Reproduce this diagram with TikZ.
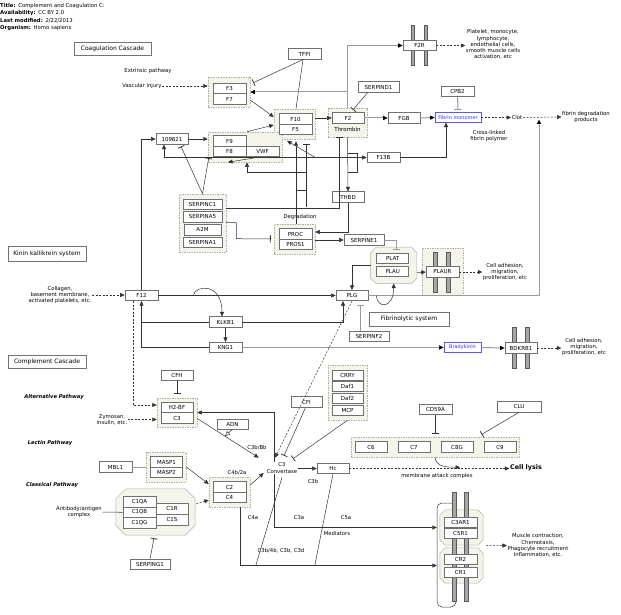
\documentclass[tikz,border=0pt]{standalone}
\usepackage{fontspec}
\setmainfont{DejaVu Sans}
\usetikzlibrary{arrows.meta,calc}
\definecolor{grpfill}{HTML}{F4F4EA}
\definecolor{grpline}{HTML}{B0B0A4}
\definecolor{boxline}{HTML}{707070}
\definecolor{metabc}{HTML}{3030FF}
\newcommand\gfnt{\fontsize{5.5}{6}\selectfont}
\newcommand\afnt{\fontsize{5.3}{6.2}\selectfont}
\newcommand\lfnt{\fontsize{6}{7}\selectfont}
\newcommand\pfnt{\fontsize{5.2}{6}\selectfont\bfseries\itshape}
\newcommand\hfnt{\fontsize{5.3}{6}\selectfont}
\newcommand\mfnt{\fontsize{5}{6}\selectfont}
\newcommand\cfnt{\fontsize{6.4}{7}\selectfont\bfseries}
\newcommand\octo[2]{%
  \draw[octd] ($(#1.north west)+(#2,0)$) -- ($(#1.north east)+(-#2,0)$) -- ($(#1.north east)+(0,#2)$) -- ($(#1.south east)+(0,-#2)$) -- ($(#1.south east)+(-#2,0)$) -- ($(#1.south west)+(#2,0)$) -- ($(#1.south west)+(0,-#2)$) -- ($(#1.north west)+(0,#2)$) -- cycle;}
\begin{document}
\begin{tikzpicture}[x=1pt,y=-1pt,
  gene/.style={draw=boxline, fill=white, line width=0.6pt, minimum width=33pt, minimum height=10.5pt, inner sep=0pt, font=\gfnt},
  metab/.style={gene, draw=metabc!80, text=metabc, minimum height=9.5pt, font=\mfnt},
  grp/.style={draw=grpline, fill=grpfill, dashed, dash pattern=on 1.5pt off 1pt, line width=0.5pt, inner sep=0pt},
  octn/.style={inner sep=0pt},
  octd/.style={draw=grpline, fill=grpfill, line width=0.5pt},
  lbox/.style={draw=black!55, fill=white, line width=0.6pt, inner sep=0pt, font=\lfnt},
  ann/.style={font=\afnt, align=center, inner sep=0.5pt},
  pw/.style={font=\pfnt, inner sep=0pt},
  ln/.style={draw=black!80, line width=0.5pt},
  arr/.style={ln, -{Triangle[length=4.5pt,width=4pt]}},
  inh/.style={ln, -{Bar[width=7pt,line width=0.8pt]}},
  gl/.style={draw=black!40, line width=1pt},
  garr/.style={gl, -{Triangle[length=4.5pt,width=4pt,color=black]}},
  ginh/.style={gl, -{Bar[width=7pt,line width=1pt]}},
  dsh/.style={ln, dashed, dash pattern=on 2pt off 1.5pt, -{Triangle[length=4.5pt,width=4pt]}},
  mbar/.style={draw=black!65, fill=black!35, line width=0.4pt},
]
\useasboundingbox (0,0) rectangle (621,615);

% ---------- header ----------
\node[anchor=west, font=\hfnt, inner sep=0pt] (h1) at (0,6) {\textbf{Title:}\enspace Complement and Coagulation C:};
\node[anchor=west, font=\hfnt, inner sep=0pt] (h2) at (0,13.3) {\textbf{Availability:}\enspace CC BY 2.0};
\node[anchor=west, font=\hfnt, inner sep=0pt] (h3) at (0,20.7) {\textbf{Last modified:}\enspace 2/22/2013};
\node[anchor=west, font=\hfnt, inner sep=0pt] (h4) at (0,28) {\textbf{Organism:}\enspace Homo sapiens};

% ---------- label boxes ----------
\node[lbox, minimum width=77pt, minimum height=13pt] (lcc) at (112.5,48.5) {Coagulation Cascade};
\node[lbox, minimum width=78pt, minimum height=15pt] (lkk) at (47,253.5) {Kinin kallikrein system};
\node[lbox, minimum width=78pt, minimum height=12.5pt] (lcm) at (47,362) {Complement Cascade};
\node[lbox, minimum width=80pt, minimum height=14pt] (lfs) at (409,319) {Fibrinolytic system};

\node[pw] (pal) at (54,397) {Alternative Pathway};
\node[pw] (plec) at (50,443) {Lectin Pathway};
\node[pw] (pcl) at (52,485) {Classical Pathway};

% ---------- groups ----------
\node[grp, minimum width=42pt, minimum height=30pt] (gF3) at (229,92) {};
\node[grp, minimum width=41pt, minimum height=30pt] (gF10) at (294.5,124) {};
\node[grp, minimum width=39pt, minimum height=29pt] (gF2) at (347.5,122.5) {};
\node[grp, minimum width=74pt, minimum height=30pt] (gF9) at (245,147) {};
\node[grp, minimum width=47pt, minimum height=58pt] (gSC) at (202.5,223) {};
\node[grp, minimum width=41pt, minimum height=30pt] (gPC) at (294.5,239) {};
\node[octn, minimum width=46pt, minimum height=36pt] (gPA) at (393.7,265.3) {};
\octo{gPA}{5.5}
\node[grp, minimum width=41pt, minimum height=47pt] (gPR) at (442.5,271.5) {};
\node[grp, minimum width=40pt, minimum height=29pt] (gHB) at (177,412.5) {};
\node[grp, minimum width=39pt, minimum height=55pt] (gCR) at (347.5,392.5) {};
\node[grp, minimum width=168pt, minimum height=20pt] (gC6) at (435,447) {};
\node[grp, minimum width=41pt, minimum height=30pt] (gC2) at (229.5,492) {};
\node[grp, minimum width=40pt, minimum height=30pt] (gMA) at (166,467) {};
\node[octn, minimum width=79pt, minimum height=46pt] (gC1) at (155.5,512) {};
\octo{gC1}{10}

% receptor frame, octagons and membrane bars
\draw[ln, rounded corners=5pt] (437,503) rectangle (456,607);
\node[octn, minimum width=43pt, minimum height=35pt] (gC3A) at (461.5,527.5) {};
\octo{gC3A}{5.5}
\node[octn, minimum width=43pt, minimum height=35pt] (gCR2) at (461.5,565.5) {};
\octo{gCR2}{5.5}
\draw[mbar] (452,492) rectangle (456,601);
\draw[mbar] (464,492) rectangle (468,601);
\draw[mbar] (411.5,25) rectangle (414.5,65);
\draw[mbar] (424,25) rectangle (427,65);
\draw[mbar] (433,252) rectangle (437,292);
\draw[mbar] (446,252) rectangle (450,292);
\draw[mbar] (512,327) rectangle (516,368);
\draw[mbar] (525,327) rectangle (529,368);

% ---------- coagulation nodes ----------
\node[ann] (ext) at (148,71) {Extrinsic pathway};
\node[ann] (vi) at (142,86) {Vascular injury};
\node[gene] (F3) at (229.5,88.5) {F3};
\node[gene] (F7) at (229.5,99) {F7};
\node[gene] (F10) at (295.5,119) {F10};
\node[gene] (F5) at (295.5,129.5) {F5};
\node[gene, minimum width=32pt] (F2) at (348,118) {F2};
\node[font=\gfnt, inner sep=0pt] (thr) at (347.5,129.8) {Thrombin};
\node[gene] (TFPI) at (304.5,54) {TFPI};
\node[gene, minimum width=41pt] (SERPIND1) at (378.5,87) {SERPIND1};
\node[gene, minimum width=32pt] (FGB) at (404,118) {FGB};
\node[metab, minimum width=46pt] (fm) at (458,117.5) {Fibrin monomer};
\node[gene] (CPB2) at (457.5,91.5) {CPB2};
\node[ann] (clot) at (517,117.5) {Clot};
\node[ann] (fdp) at (586,117) {fibrin degradation\\products};
\node[ann] (clf) at (489,136) {Cross-linked\\fibrin polymer};
\node[gene] (F13B) at (383.5,157.5) {F13B};
\node[gene] (F2R) at (419.5,45.5) {F2R};
\node[ann] (f2rt) at (493,44.5) {Platelet, monocyte,\\lymphocyte,\\endothelial cells,\\smooth muscle cells\\activation, etc};
\node[gene, minimum width=32pt] (n109821) at (172,139) {109821};
\node[gene] (F9) at (229.5,141) {F9};
\node[gene] (F8) at (229.5,151.5) {F8};
\node[gene] (VWF) at (262.5,151.5) {VWF};
\node[gene, minimum width=32pt] (THBD) at (348,197) {THBD};
\node[gene, minimum width=39pt] (SERPINC1) at (202.5,204.3) {SERPINC1};
\node[gene, minimum width=39pt] (SERPINA5) at (202.5,216.7) {SERPINA5};
\node[gene, minimum width=37pt] (A2M) at (202.5,229.7) {A2M};
\node[gene, minimum width=39pt] (SERPINA1) at (202.5,242.3) {SERPINA1};
\node[gene] (PROC) at (295.5,234) {PROC};
\node[gene] (PROS1) at (295.5,244.5) {PROS1};
\node[ann] (degr) at (300,217) {Degradation};
\node[gene, minimum width=40pt] (SERPINE1) at (364,240) {SERPINE1};
\node[gene, minimum width=32pt, minimum height=10pt] (PLAT) at (392.7,258) {PLAT};
\node[gene, minimum width=32pt, minimum height=10pt] (PLAU) at (392.7,271.7) {PLAU};
\node[gene] (PLAUR) at (442.5,272) {PLAUR};
\node[ann] (plt) at (505,272) {Cell adhesion,\\migration,\\proliferation, etc};
\node[gene, minimum width=32pt] (PLG) at (352,295.5) {PLG};
\node[gene, minimum width=40pt] (SERPINF2) at (369,336.5) {SERPINF2};

% ---------- kinin nodes ----------
\node[gene] (F12) at (141.5,295.5) {F12};
\node[ann] (coll) at (60,295) {Collagen,\\basement membrane,\\activated platelets, etc.};
\node[gene] (KLKB1) at (225.5,322) {KLKB1};
\node[gene] (KNG1) at (225.5,347.5) {KNG1};
\node[metab, minimum width=37pt] (Bk) at (462.5,347.5) {Bradykinin};
\node[gene, minimum width=32pt] (BDKRB1) at (521,348) {BDKRB1};
\node[ann] (bdt) at (584,347) {Cell adhesion,\\migration,\\proliferation, etc};

% ---------- complement nodes ----------
\node[gene, minimum width=32pt] (CFH) at (177,375.5) {CFH};
\node[gene, minimum width=32pt] (H2BF) at (177,407.3) {H2-BF};
\node[gene, minimum width=32pt] (nC3) at (177,418) {C3};
\node[ann] (zym) at (112,419.5) {Zymosan,\\insulin, etc.};
\node[gene, minimum width=31pt, minimum height=10pt] (ADN) at (232.5,424) {ADN};
\node[gene, minimum width=31pt] (CFI) at (306.5,402) {CFI};
\node[gene, minimum width=31pt, minimum height=10pt] (CRRY) at (347.5,375) {CRRY};
\node[gene, minimum width=31pt, minimum height=10pt] (Daf1) at (347.5,386.7) {Daf1};
\node[gene, minimum width=31pt, minimum height=10pt] (Daf2) at (347.5,398.3) {Daf2};
\node[gene, minimum width=31pt, minimum height=10pt] (MCP) at (347.5,410) {MCP};
\node[ann, inner sep=1pt] (C3c) at (282,468) {C3\\Convertase};
\node[gene, minimum width=32pt] (Hc) at (333,468.5) {Hc};
\node[ann] (lc3b) at (313,482) {C3b};
\node[gene, minimum width=32pt] (C6) at (371,447) {C6};
\node[gene, minimum width=32pt] (C7) at (414,447) {C7};
\node[gene, minimum width=32pt] (C8G) at (457,447) {C8G};
\node[gene, minimum width=32pt] (C9) at (500,447) {C9};
\node[gene] (CD59A) at (435.5,409.5) {CD59A};
\node[gene, minimum width=44pt, minimum height=11pt] (CLU) at (519,406.5) {CLU};
\node[font=\cfnt, inner sep=0.5pt] (cl) at (526,468) {Cell lysis};
\node[ann] (mac) at (437,476) {membrane attack complex};
\node[gene] (C2) at (229.5,487) {C2};
\node[gene] (C4) at (229.5,497.5) {C4};
\node[ann] (lc4b) at (237,473) {C4b/2a};
\node[ann] (lc3bb) at (257,448) {C3b/Bb};
\node[gene, minimum width=32pt] (MASP1) at (166.5,462) {MASP1};
\node[gene, minimum width=32pt] (MASP2) at (166.5,472.5) {MASP2};
\node[gene] (MBL1) at (115.5,467) {MBL1};
\node[gene] (C1QA) at (139.5,501.6) {C1QA};
\node[gene] (C1QB) at (139.5,512.3) {C1QB};
\node[gene] (C1QG) at (139.5,523) {C1QG};
\node[gene, minimum width=32pt] (C1R) at (172,508.8) {C1R};
\node[gene, minimum width=32pt] (C1S) at (172,519.6) {C1S};
\node[ann] (abt) at (79,512) {Antibody/antigen\\complex};
\node[gene, minimum width=40pt] (SERPING1) at (150,564.5) {SERPING1};
\node[gene, minimum height=10pt] (C3AR1) at (460.5,522) {C3AR1};
\node[gene, minimum height=10pt] (C5R1) at (460.5,533) {C5R1};
\node[gene, minimum height=10pt] (CR2) at (460.5,559) {CR2};
\node[gene, minimum height=10pt] (CR1) at (460.5,572) {CR1};
\node[ann] (mct) at (538,545.5) {Muscle contraction,\\Chemotaxis,\\Phagocyte recruitment\\Inflammation, etc.};
\node[ann] (lc4a) at (253,518) {C4a};
\node[ann] (lc3a) at (299,518) {C3a};
\node[ann] (lc5a) at (346,518) {C5a};
\node[ann] (lmed) at (337,534) {Mediators};
\node[ann] (lc3d) at (281,551) {C3b/4b, C3b, C3d};

% ---------- coagulation connectors ----------
\draw[dsh] (vi.east) -- (vi.east -| gF3.west);
\draw[inh] ($(TFPI.south)+(-1.5,0)$) -- ($(gF3.north east)+(3,6)$);
\draw[ln] ($(TFPI.south)+(-1.5,0)$) -- ($(gF10.north)+(1.5,0)$);
\draw[arr] ($(gF3.east)+(0,8)$) -- ($(gF10.west)+(0,-7)$);
\draw[arr] ($(gF9.north)+(2,0)$) -- ($(gF10.west)+(0,1)$);
\draw[arr] (gF10.east |- F2.west) -- (F2.west);
\draw[inh] ($(SERPIND1.south west)+(10,0)$) -- ($(gF2.north)+(5.5,2)$);
\draw[garr] (F2.east) -- (FGB.west);
\draw[garr] (FGB.east) -- (fm.west);
\draw[ginh] (CPB2.south) -- ($(fm.north)+(0,-2.5)$);
\draw[dsh] (fm.east) -- (clot.west);
\draw[dsh] (clot.east) -- (fdp.west);
\draw[garr] (gF2.north) |- (F2R.west);
\draw[garr] (gF2.north |- gF3.east) -- (gF3.east);
\draw[dsh] (F2R.east) -- (F2R.east -| f2rt.west);
\draw[arr] (F13B.east) -| ([xshift=-12pt]fm.south);
\coordinate (cf) at (539,119.5);
\draw[garr] (PLG.east) -| (cf);
\draw[arr] (F12.north) |- (n109821.west);
\draw[arr] (n109821.east) -- (n109821.east -| gF9.west);
\draw[arr] (gF2.south |- F13B.west) -| ([xshift=-8pt]n109821.south);
\draw[arr] (gF2.south |- F13B.west) -- (F13B.west);
\draw[ln] ($(gF2.south |- F13B.west)+(0,-4.5)$) -- ++(10,0) -- ++(0,19) -- ++(-10,0);
\draw[arr] (gF10.south east |- F13B.west) -- ($(gF10.south)+(-7.5,1.5)$);
\draw[arr] ($(VWF.south)+(-7.5,0.75)$) -- ($(gF9.south)+(-17,0)$);
\draw[arr] (gF2.south) -- (THBD.north);
\draw[inh] ($(SERPINC1.east)+(3.5,4)$) -| ($(gF2.south)+(-8.5,0)$);
\draw[inh] (gSC.north) -- ($(n109821.south)+(9,2)$);
\draw[inh] (gSC.north) -- ($(F8.south west)+(-4,1)$);
\draw[inh] ($(SERPINA5.east)+(3.5,6)$) -| ($(SERPINA5.east)+(14,22)$) -- ($(gPC.west)+(-3,0)$);
\draw[arr] ($(gPC.north)+(1.5,0)$) -- ($(gF10.south)+(1.5,2)$);
\draw[inh] ($(gPC.north)+(11.5,-17)$) -- ($(gF10.south)+(11.5,5)$);
\draw[ln] ($(gPC.north)+(1.5,-34)$) -- ++(10,0);
\draw[arr] ($(gPC.north)+(11.5,-52)$) -| ($(gF9.south)+(2,0)$);
\draw[arr] (THBD.south) |- ($(gPC.east)+(0,-7)$);
\draw[arr] (gPC.east |- SERPINE1.west) -- (SERPINE1.west);
\draw[ginh] (SERPINE1.east) -| ($(gPA.north)+(3,2.5)$);
\draw[arr] ($(gPA.east)+(0,7.5)$) -- (PLAUR.west);
\draw[dsh] (PLAUR.east) -- (PLAUR.east -| plt.west);
\draw[arr] ($(PLG.east)+(8,0)$) .. controls (377,309) and (393.7,309) .. (gPA.south);
\draw[arr] (gPA.west) -| (PLG.north);

% ---------- kinin connectors ----------
\draw[arr] (F12.east) -- (PLG.west);
\draw[arr] ($(F12.east)+(35,0)$) .. controls (195,285) and (222,282) .. ($(KLKB1.north)+(-3.5,0)$);
\draw[arr] (KLKB1.south) -- (KNG1.north);
\draw[ln] (KLKB1.west) -- (KLKB1.west -| F12.south);
\draw[arr] (KNG1.west) -| (F12.south);
\draw[arr] (KLKB1.east) -| ($(PLG.south)+(-9,0)$);
\draw[garr] (KNG1.east) -- (Bk.west);
\draw[garr] (Bk.east) -- (BDKRB1.west);
\draw[dsh] (BDKRB1.east) -- (BDKRB1.east -| bdt.west);
\draw[ginh] ($(SERPINF2.north)+(-9,0)$) -- ($(PLG.south)+(8,3.5)$);
\draw[dsh] (coll.east) -- (coll.east -| F12.west);

% ---------- complement connectors ----------
\draw[dsh] ($(F12.south)+(-8.5,0)$) |- ($(gHB.west)+(0,-7.5)$);
\draw[inh] (CFH.south) -- ($(gHB.north)+(0,-4)$);
\draw[dsh] (zym.east) -- (zym.east -| gHB.west);
\draw[arr] ($(C3c.north)+(-8,0)$) |- (gHB.east);
\coordinate (bbstart) at ($(gHB.east)+(0,6)$);
\coordinate (bbend) at ($(C3c.north west)+(-7,-4)$);
\draw[arr] (bbstart) -- (bbend);
\coordinate (adnpt) at ($(bbstart)!0.45!(bbend)$);
\draw[ln, -{Triangle[open,length=5pt,width=4.5pt]}] (ADN.south) -- (adnpt);
\draw[arr] ($(gC2.east)+(0,-7)$) -- ($(C3c.west)+(-2,5)$);
\draw[arr] (gMA.east) -- ($(gC2.west)+(0,-8)$);
\draw[gl] (MBL1.east) -- (gMA.west);
\draw[dsh] ($(gC1.east)+(1,-8)$) -- ($(gC2.west)+(0,8)$);
\draw[ln] (abt.east) -- (C1QB.west);
\draw[inh] (SERPING1.north) -- ($(gC1.south)+(-1.5,3)$);
\draw[dsh] (PLG.south) -- ($(C3c.north)+(-7,-4)$);
\draw[inh] ($(CFI.south)+(-1,0)$) -- ($(C3c.north)+(2,-6)$);
\draw[inh] (gCR.south) -- ($(C3c.north)+(11,-3)$);
\draw[arr] (C3c.east |- Hc.west) -- (Hc.west);
\draw[dsh] (Hc.east) -- (Hc.east -| cl.west);
\draw[arr] (gC6.south) .. controls ($(gC6.south)+(1,9)$) and ($(gC6.south)+(10,10)$) .. ($(gC6.south)+(25,10)$);
\draw[inh] (CD59A.south) -- ($(gC6.north)+(0.5,-3)$);
\draw[inh] (CLU.south) -- ($(C9.north west)+(-2,-7)$);
\draw[arr] ($(C3c.south)+(-8,0)$) |- ($(gC3A.west)+(-3,0)$);
\draw[arr] ($(gC2.south)+(10.5,0)$) |- ($(gCR2.west)+(-3,0)$);
\coordinate (cbe) at ($(gCR2.west)+(-184,0)$);
\draw[ln] ($(C3c.south)+(0,3)$) -- (cbe);
\coordinate (hce) at ($(gCR2.west)+(-125,0)$);
\draw[ln] (Hc.south) -- (hce);
\draw[dsh] ($(gC3A.south east)+(3,0.5)$) -- (mct.west);
\end{tikzpicture}
\end{document}
